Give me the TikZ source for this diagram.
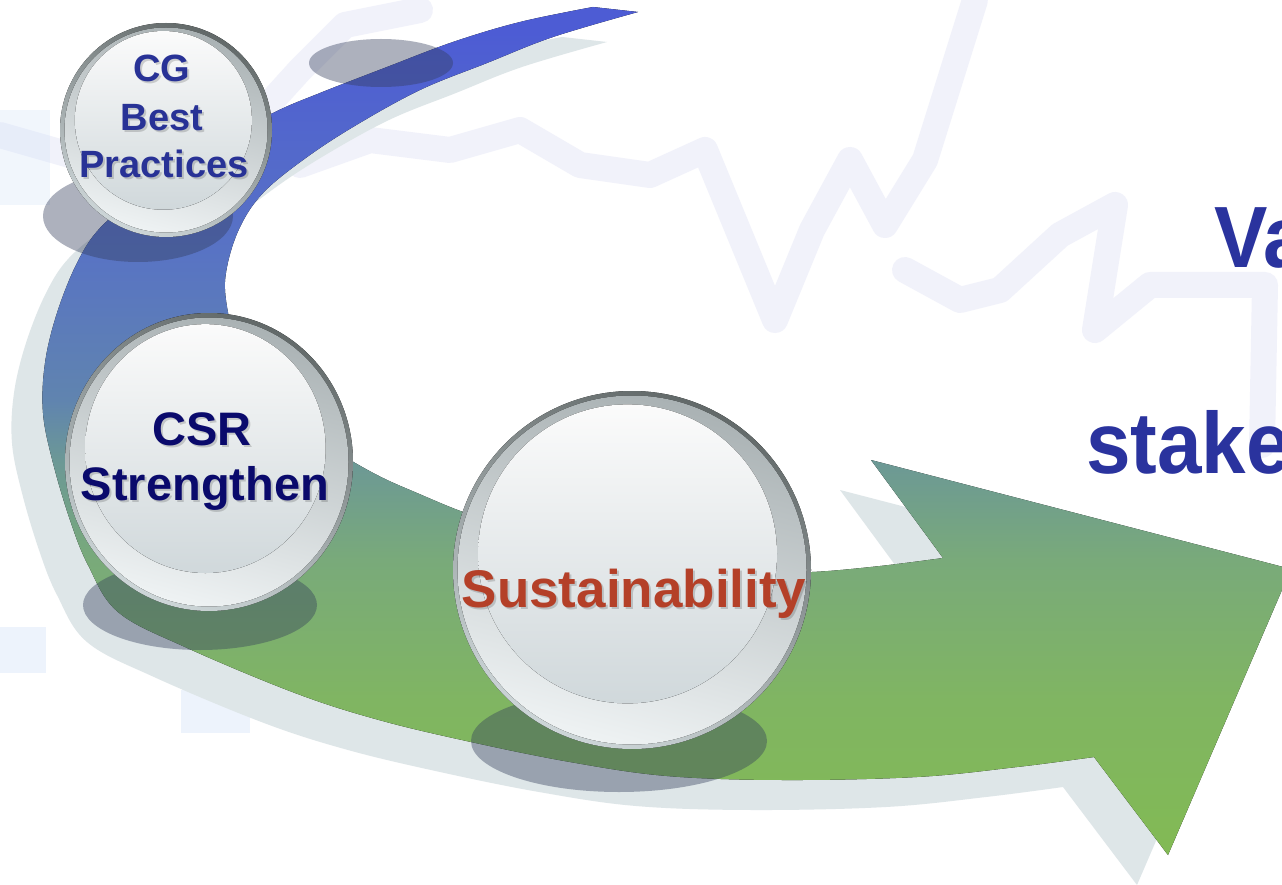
\documentclass[tikz,border=0pt]{standalone}
\usepackage{fontspec}
\setmainfont{Liberation Sans}
\usepackage{graphicx}
\definecolor{ag0}{RGB}{130,186,84}
\definecolor{ag1}{RGB}{128,181,98}
\definecolor{ag2}{RGB}{121,170,122}
\definecolor{ag3}{RGB}{108,152,150}
\definecolor{ag4}{RGB}{96,132,175}
\definecolor{ag5}{RGB}{88,115,196}
\definecolor{ag6}{RGB}{77,92,212}
\definecolor{shadowgray}{RGB}{222,230,232}
\definecolor{ellshade}{RGB}{50,60,90}
\definecolor{rimdark}{RGB}{98,105,105}
\definecolor{rimlight}{RGB}{205,214,216}
\definecolor{rimmid}{RGB}{170,178,180}
\definecolor{rimlow}{RGB}{238,242,243}
\definecolor{coretop}{RGB}{251,251,251}
\definecolor{corebot}{RGB}{208,216,219}
\definecolor{cgblue}{RGB}{40,50,150}
\definecolor{csrnavy}{RGB}{10,10,108}
\definecolor{susred}{RGB}{180,64,40}
\definecolor{bigblue}{RGB}{42,51,158}
\definecolor{bglav}{RGB}{212,216,242}
\definecolor{bgblue}{RGB}{210,226,248}
\pgfdeclareverticalshading{arrowshade}{100bp}{color(0bp)=(ag0); color(25bp)=(ag0); color(34.1bp)=(ag1); color(42.4bp)=(ag2); color(48.3bp)=(ag3); color(51.8bp)=(ag4); color(60.7bp)=(ag5); color(73.6bp)=(ag6); color(100bp)=(ag6)}
\newcommand\arrowpath{plot[smooth, tension=0.6] coordinates {(593,7) (520,22) (453,42) (387,67) (320,93) (273,113) (200,152) (140,195) (100,228) (77,263) (57,313) (45,363) (43,413) (53,463) (70,520) (88,565) (118,612) (185,647) (295,693) (379,720) (471,742) (570,762) (667,776) (783,780) (917,777) (1017,767) (1094,757)} -- (1168,855) -- (1291,569) -- (871,460) -- (943,558) -- plot[smooth, tension=0.6] coordinates {(943,558) (880,566) (812,572) (750,572) (680,566) (600,553) (530,535) (463,512) (417,493) (383,478) (350,460) (300,430) (262,393) (238,350) (226,300) (227,267) (240,227) (263,193) (303,160) (353,127) (420,90) (487,63) (553,37) (638,12)} -- cycle}
\newcommand\gball[3]{%
  \begin{scope}[shift={(#1)}]
    \fill[top color=rimdark, bottom color=rimlight, shading angle=-25] (0,0) ellipse [x radius=#2, y radius=#3];
    \fill[top color=rimmid, bottom color=rimlow, shading angle=-15] (0,0) ellipse [x radius=#2-4.5, y radius=#3-4.5];
    \fill[top color=coretop, bottom color=corebot] (-0.025*#2,-0.09*#3) ellipse [x radius=0.835*#2, y radius=0.835*#3];
  \end{scope}}
\newcommand\stxt[5]{%
  \node[#4, text=black, text opacity=0.16] at (#2+2,#3+2) {#5};
  \node[#4] (#1) at (#2,#3) {#5};}
\begin{document}
\begin{tikzpicture}[x=1pt, y=-1pt,
  bgline/.style={line width=26, draw=bglav, opacity=0.32, line cap=round, line join=round},
  ballshadow/.style={fill=ellshade, fill opacity=0.4},
  cgtext/.style={font=\fontsize{38}{46}\selectfont\bfseries, text=cgblue, inner sep=0, anchor=base},
  csrtext/.style={font=\fontsize{47}{56}\selectfont\bfseries, text=csrnavy, inner sep=0, anchor=base},
  sustext/.style={font=\fontsize{53}{60}\selectfont\bfseries, text=susred, inner sep=0, anchor=base},
  bigtext/.style={font=\fontsize{87}{100}\selectfont\bfseries, text=bigblue, inner sep=0, anchor=base west}]
\useasboundingbox (0,0) rectangle (1282,885);
\clip (0,0) rectangle (1282,885);
\fill[white] (0,0) rectangle (1282,885);
% faint background chart
\draw[bgline] (0,135) -- (70,155) -- (150,150) -- (250,125) -- (300,70) -- (345,25) -- (420,10);
\draw[bgline] (300,165) -- (370,140) -- (450,150) -- (520,130) -- (580,165) -- (650,175) -- (705,150) -- (775,320) -- (812,230) -- (850,160) -- (885,225) -- (925,160) -- (975,0);
\draw[bgline] (905,270) -- (960,300) -- (1000,290) -- (1060,235) -- (1115,205) -- (1095,330) -- (1150,285) -- (1265,285) -- (1262,445);
\fill[bgblue, opacity=0.4] (0,627) rectangle (46,673);
\fill[bgblue, opacity=0.4] (181,690) rectangle (250,733);
\fill[bgblue, opacity=0.3] (0,110) rectangle (50,205);
% arrow shadow and arrow
\fill[shadowgray, shift={(-31,30)}] \arrowpath;
\fill[shading=arrowshade] \arrowpath;
% shadows of the balls
\fill[ballshadow] (381,63) ellipse [x radius=72, y radius=24];
\fill[ballshadow] (138,216) ellipse [x radius=95, y radius=46];
\fill[ballshadow] (200,605) ellipse [x radius=117, y radius=45];
\fill[ballshadow] (619,741) ellipse [x radius=148, y radius=51];
% balls
\coordinate (cg) at (166,130);
\coordinate (csr) at (209,462);
\coordinate (sus) at (632,570);
\gball{cg}{106}{107}
\gball{csr}{144}{149}
\gball{sus}{179}{179}
% texts
\stxt{cg1}{162}{82}{cgtext}{CG}
\stxt{cg2}{162}{131}{cgtext}{Best}
\stxt{cg3}{164}{178}{cgtext}{Practices}
\stxt{csr1}{202}{445}{csrtext}{CSR}
\stxt{csr2}{205}{500}{csrtext}{Strengthen}
\stxt{sus1}{634}{607}{sustext}{Sustainability}
\node[bigtext] (va) at (1214,268) {\scalebox{0.92}[1]{Va}};
\node[bigtext] (stake) at (1086,473) {\scalebox{0.92}[1]{stake}};
\end{tikzpicture}
\end{document}
